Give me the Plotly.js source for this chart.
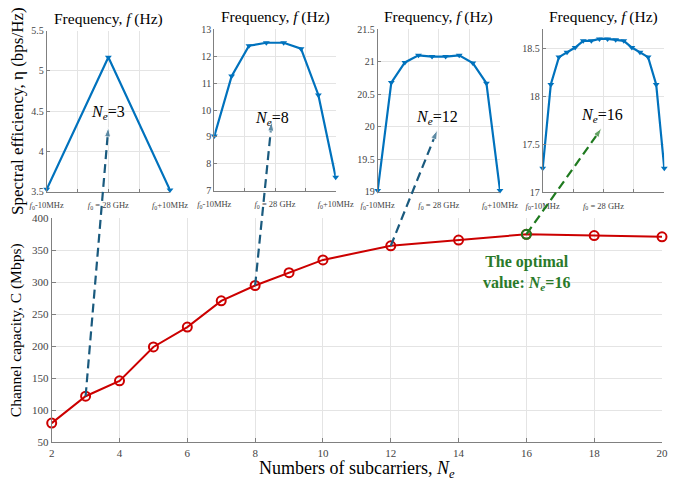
<!DOCTYPE html>
<html>
<head>
<meta charset="utf-8">
<script src="https://cdn.plot.ly/plotly-3.0.1.min.js"></script>
<style>html,body{margin:0;padding:0;background:#fff;}#chart{width:673px;height:481px;}</style>
</head>
<body>
<div id="chart"></div>
<script>
// ---- data ----
const subcarriers = [2, 3, 4, 5, 6, 7, 8, 9, 10, 12, 14, 16, 18, 20];
const capacity = [80, 122, 146, 199, 230, 271, 295, 315, 335, 357, 366, 375, 373, 371];
const eta3 = [3.53, 5.17, 3.52];
const eta8 = [9.03, 11.26, 12.39, 12.5, 12.5, 12.28, 10.56, 7.5];
const eta12 = [19.02, 20.68, 20.99, 21.10, 21.08, 21.08, 21.10, 20.98, 20.67, 19.02];
const eta16 = [17.25, 18.125, 18.41, 18.46, 18.51, 18.58, 18.58, 18.60, 18.60, 18.59, 18.58, 18.51, 18.46, 18.41, 18.125, 17.25];
const freqTickText = ['<i>f</i><sub>0</sub>-10MHz', '', '<i>f</i><sub>0</sub> = 28 GHz', '', '<i>f</i><sub>0</sub>+10MHz'];
const insetNe = [3, 8, 12, 16];
const optimalNe = 16;

// ---- layout geometry ----
const W = 673, H = 481;
const FONT = '"Liberation Serif", "Times New Roman", serif';
const px = (a, b) => [a / W, b / W];
const py = (top, bottom) => [1 - bottom / H, 1 - top / H];

const mainX = {domain: px(51.7, 662), range: [2, 20]};
const mainY = {domain: py(218.3, 442.3), range: [50, 400]};
const insets = [
  {data: eta3,  xd: px(46.7, 170),  yd: py(30.7, 191.7), yr: [3.5, 5.5], dt: 0.5, head: [2, 4.30], lab: [2, 4.48], col: '#1a5a7e'},
  {data: eta8,  xd: px(214.3, 335.7), yd: py(29.3, 190.7), yr: [7, 13], dt: 1, head: [4.31, 9.57], lab: [4.32, 9.70], col: '#1a5a7e'},
  {data: eta12, xd: px(377.7, 500), yd: py(29.3, 191.7), yr: [19, 21.5], dt: 0.5, head: [5.39, 19.95], lab: [5.36, 20.15], col: '#1a5a7e'},
  {data: eta16, xd: px(542.7, 664.3), yd: py(29.3, 192.3), yr: [17, 18.7], dt: 0.5, head: [8.28, 17.67], lab: [8.3, 17.80], col: '#1f7a1f'}
];

function toPaper(val, ax) {
  return ax.domain[0] + (val - ax.range[0]) / (ax.range[1] - ax.range[0]) * (ax.domain[1] - ax.domain[0]);
}

const traces = [];
const layout = {
  width: W, height: H,
  margin: {l: 0, r: 0, t: 0, b: 0},
  paper_bgcolor: '#ffffff', plot_bgcolor: 'rgba(0,0,0,0)',
  showlegend: false,
  font: {family: FONT, color: '#000'},
  annotations: [], shapes: []
};

// main plot
layout.xaxis = {
  domain: mainX.domain, range: mainX.range, tickvals: [2,4,6,8,10,12,14,16,18,20],
  showgrid: true, gridcolor: '#e4e4e4', zeroline: false,
  showline: true, linecolor: '#808080', linewidth: 1, ticks: 'inside', ticklen: 4, tickcolor: '#808080',
  tickfont: {family: FONT, size: 11, color: '#444'},
  title: {text: 'Numbers of subcarriers, <i>N</i><sub><i>e</i></sub>', font: {family: FONT, size: 18, color: '#000'}, standoff: 1}
};
layout.yaxis = {
  domain: mainY.domain, range: mainY.range, tickvals: [50,100,150,200,250,300,350,400],
  showgrid: true, gridcolor: '#e4e4e4', zeroline: false,
  showline: true, linecolor: '#808080', linewidth: 1, ticks: 'inside', ticklen: 4, tickcolor: '#808080',
  tickfont: {family: FONT, size: 11, color: '#444'},
  title: {text: 'Channel capacity, C (Mbps)', font: {family: FONT, size: 15.5, color: '#000'}, standoff: 6}
};
traces.push({
  x: subcarriers, y: capacity, xaxis: 'x', yaxis: 'y', type: 'scatter', mode: 'lines+markers',
  line: {color: '#cc0000', width: 2},
  marker: {symbol: 'circle-open', size: 9, color: '#cc0000', line: {width: 2, color: '#cc0000'}},
  cliponaxis: false
});
const optIdx = subcarriers.indexOf(optimalNe);
traces.push({
  x: [optimalNe], y: [capacity[optIdx]], xaxis: 'x', yaxis: 'y', type: 'scatter', mode: 'markers',
  marker: {symbol: 'circle-open', size: 9, color: '#1f7a1f', line: {width: 2, color: '#1f7a1f'}},
  cliponaxis: false
});

// overlay axis for arrows across subplots (paper fraction)
layout.xaxis6 = {domain: [0, 1], range: [0, 1], visible: false, fixedrange: true, showgrid: false, zeroline: false};
layout.yaxis6 = {domain: [0, 1], range: [0, 1], visible: false, fixedrange: true, showgrid: false, zeroline: false};

insets.forEach((ins, i) => {
  const k = i + 2;
  const n = ins.data.length;
  const xs = ins.data.map((_, j) => j + 1);
  const step = (n - 1) / 4;
  const tv = [1, 1 + step, 1 + 2 * step, 1 + 3 * step, n];
  const yt = [];
  for (let v = ins.yr[0]; v <= ins.yr[1] + 1e-9; v += ins.dt) yt.push(+v.toFixed(2));
  layout['xaxis' + k] = {
    domain: ins.xd, range: [1, n], anchor: 'y' + k, tickvals: tv, ticktext: freqTickText,
    showgrid: true, gridcolor: '#e4e4e4', zeroline: false,
    showline: true, linecolor: '#808080', linewidth: 1, ticks: 'inside', ticklen: 3, tickcolor: '#808080',
    tickfont: {family: FONT, size: 8.5, color: '#444'}, tickangle: 0, ticklabelstandoff: 5
  };
  layout['yaxis' + k] = {
    domain: ins.yd, range: ins.yr, anchor: 'x' + k, tickvals: yt,
    showgrid: true, gridcolor: '#e4e4e4', zeroline: false,
    showline: true, linecolor: '#808080', linewidth: 1, ticks: 'inside', ticklen: 3, tickcolor: '#808080',
    tickfont: {family: FONT, size: 10, color: '#444'}
  };
  if (k === 2) {
    layout.yaxis2.title = {text: 'Spectral efficiency, η (bps/Hz)', font: {family: FONT, size: 17, color: '#000'}, standoff: 3};
  }
  traces.push({
    x: xs, y: ins.data, xaxis: 'x' + k, yaxis: 'y' + k, type: 'scatter', mode: 'lines+markers',
    line: {color: '#0072BD', width: 2.2},
    marker: {symbol: 'triangle-down', size: 6, color: '#0072BD'},
    cliponaxis: false
  });
  layout.annotations.push({
    xref: 'paper', yref: 'paper', x: (ins.xd[0] + ins.xd[1]) / 2, y: ins.yd[1] + 0.002,
    xanchor: 'center', yanchor: 'bottom', showarrow: false,
    text: 'Frequency, <i>f</i> (Hz)', font: {family: FONT, size: 15.5, color: '#000'}
  });
  layout.annotations.push({
    xref: 'x' + k, yref: 'y' + k, x: ins.lab[0], y: ins.lab[1], xanchor: 'center', yanchor: 'middle', showarrow: false,
    text: '<i>N</i><sub><i>e</i></sub>=' + insetNe[i], font: {family: FONT, size: 16, color: '#000'}
  });
  const ci = subcarriers.indexOf(insetNe[i]);
  const x0 = toPaper(insetNe[i], mainX), y0 = toPaper(capacity[ci], mainY);
  const ixa = {domain: ins.xd, range: [1, n]}, iya = {domain: ins.yd, range: ins.yr};
  const x1 = toPaper(ins.head[0], ixa), y1 = toPaper(ins.head[1], iya);
  traces.push({
    x: [x0, x1], y: [y0, y1], xaxis: 'x6', yaxis: 'y6', type: 'scatter', mode: 'lines+markers',
    line: {color: ins.col, width: 2.2, dash: '9px,5px'},
    marker: {symbol: 'arrow', size: [0, 10], color: ins.col, angleref: 'previous'},
    cliponaxis: false, hoverinfo: 'skip'
  });
});

layout.annotations.push({
  xref: 'x', yref: 'y', x: 16, y: 314, xanchor: 'center', yanchor: 'middle', showarrow: false,
  text: '<b>The optimal<br>value: <i>N</i><sub><i>e</i></sub>=16</b>',
  font: {family: FONT, size: 16, color: '#2a7a2a'}
});

Plotly.newPlot('chart', traces, layout, {staticPlot: true});
</script>
</body>
</html>
